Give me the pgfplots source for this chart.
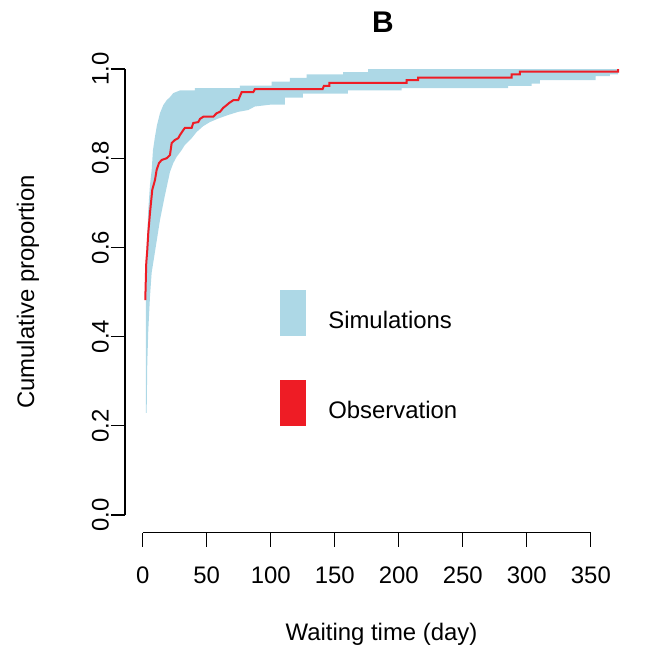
\documentclass[border=0pt]{standalone}
\usepackage{fontspec}
\setmainfont{Liberation Sans}
\usepackage{pgfplots}
\pgfplotsset{compat=1.18}
\definecolor{simblue}{HTML}{ADD8E6}
\definecolor{obsred}{HTML}{EE1C25}
\begin{document}
\begin{tikzpicture}
\begin{axis}[
  name=ax,
  scale only axis, width=256.5bp, height=240.8bp,
  xmin=-13.8, xmax=386.8, ymin=-0.04, ymax=1.04,
  clip=false,
  font=\fontsize{12}{14.4}\selectfont,
  /pgf/number format/assume math mode=true,
  axis line style={draw=none},
  tick align=outside, major tick length=7bp,
  tick pos=left,
  tick style={black, line width=0.6bp},
  xtick={0,50,100,150,200,250,300,350},
  xticklabels={0,50,100,150,200,250,300,350},
  ytick={0,0.2,0.4,0.6,0.8,1},
  yticklabels={0.0,0.2,0.4,0.6,0.8,1.0},
  xticklabel style={yshift=-6.5bp},
  yticklabel style={xshift=2.5bp, rotate=90, anchor=south},
  title={B},
  title style={font=\bfseries\fontsize{15}{18}\selectfont, at={(axis description cs:0.503,1.0606)}, anchor=center, yshift=-6pt},
  xlabel={Waiting time (day)},
  xlabel style={at={(axis description cs:0.5,-0.210)}, anchor=center},
  ylabel={Cumulative proportion},
  ylabel style={at={(axis description cs:-0.189,0.5)}, anchor=center},
  legend image code/.code={\fill[#1] (0bp,-7.2bp) rectangle (13bp,15.8bp);},
  legend cell align=left,
  legend style={at={(axis description cs:0.302,0.506)}, anchor=north west,
    draw=none, fill=none, inner sep=0pt, row sep=22bp, column sep=11bp,
    nodes={inner sep=0pt}},
]
\addplot[fill=simblue, draw=none, forget plot] coordinates {
(2.58,0.229) (2.58,0.572) (3.75,0.639) (4.37,0.684) (5.70,0.740) (7.03,0.773)
(8.04,0.818) (9.60,0.848) (11.16,0.874) (13.50,0.901) (16.08,0.919) (18.74,0.930)
(21.31,0.937) (23.89,0.946) (29.12,0.952) (40.83,0.952) (40.83,0.957) (75.96,0.957)
(75.96,0.963) (100.7,0.963) (100.7,0.972) (115.0,0.972) (115.0,0.980) (128.0,0.980)
(128.0,0.988) (156.6,0.988) (156.6,0.993) (176.1,0.993) (176.1,1.000) (371.3,1.000)
(371.3,0.988) (364.8,0.988) (364.8,0.984) (353.8,0.984) (353.8,0.975) (310.2,0.975)
(310.2,0.967) (303.7,0.967) (303.7,0.962) (285.4,0.962) (285.4,0.957) (202.2,0.957)
(202.2,0.952) (160.3,0.952) (160.3,0.945) (125.1,0.945) (125.1,0.936) (111.1,0.936)
(111.1,0.920) (99.4,0.920) (87.6,0.916) (82.4,0.908) (74.6,0.904) (66.8,0.897)
(59.0,0.889) (52.5,0.881) (47.3,0.872) (42.2,0.859) (38.3,0.845) (33.0,0.830)
(30.4,0.818) (26.5,0.803) (23.9,0.789) (21.3,0.769) (17.4,0.717) (13.5,0.661)
(9.6,0.590) (7.0,0.543) (5.7,0.489) (4.4,0.415) (3.6,0.341) (3.1,0.229)
} -- cycle;
\addplot[obsred, line width=1bp, forget plot] coordinates {
(2.03,0.482) (2.81,0.565) (3.59,0.594) (4.37,0.632) (5.70,0.677) (7.49,0.729)
(9.60,0.751) (10.93,0.774) (12.72,0.789) (14.83,0.796) (18.74,0.800) (21.31,0.807)
(22.64,0.834) (25.21,0.841) (27.79,0.845) (29.12,0.852) (31.69,0.863) (33.02,0.868)
(38.25,0.868) (39.50,0.879) (43.40,0.881) (44.73,0.888) (47.31,0.893) (55.11,0.893)
(57.77,0.901) (60.34,0.904) (62.92,0.913) (65.57,0.919) (67.60,0.924) (70.73,0.930)
(74.63,0.930) (77.28,0.948) (86.34,0.948) (87.67,0.955) (140.5,0.955) (141.5,0.962)
(145.7,0.962) (145.7,0.969) (206.1,0.969) (206.1,0.975) (215.1,0.975) (215.1,0.981)
(288.1,0.981) (288.1,0.988) (294.5,0.988) (294.5,0.994) (371.3,0.994) (371.3,1.000)
};
\addlegendimage{fill=simblue, draw=none}
\addlegendentry{Simulations}
\addlegendimage{fill=obsred, draw=none}
\addlegendentry{Observation}
\draw[black, line width=0.6bp] (axis cs:0,-0.04) -- (axis cs:350,-0.04);
\draw[black, line width=0.6bp] (axis cs:-13.8,0) -- (axis cs:-13.8,1);
\end{axis}
\pgfresetboundingbox
\path[use as bounding box] ([shift={(-62.5bp,-61.6bp)}]ax.south west) rectangle +(324.5bp,328bp);
\end{tikzpicture}
\end{document}
